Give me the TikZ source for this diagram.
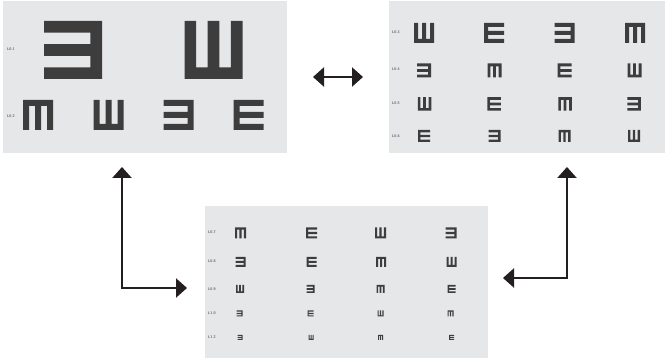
\documentclass[tikz,border=0pt]{standalone}
\usepackage{tikz}
\usetikzlibrary{arrows.meta}
\definecolor{chartbg}{HTML}{E6E7E8}
\definecolor{ink}{HTML}{3D3D3D}
\definecolor{arrowink}{HTML}{231F20}
\tikzset{
  panel/.style={fill=chartbg, draw=none, inner sep=0pt, outer sep=0pt},
  optotype/.style={fill=ink},
  lvl/.style={font=\fontsize{3.8}{3.8}\selectfont\sffamily\bfseries, text=black!60, inner sep=0pt},
  dbl/.style={draw=arrowink, line width=2.2pt,
    {Triangle[length=11pt,width=19pt]}-{Triangle[length=11pt,width=19pt]}}
}
% tumbling E: x, y, size, direction of the opening
\newcommand{\tumbleE}[4]{%
  \fill[optotype, shift={(#1,#2)}, rotate=#4, scale=#3]
    (-0.5,-0.5) rectangle (-0.3,0.5)
    (-0.5,-0.5) rectangle (0.5,-0.3)
    (-0.5,-0.1) rectangle (0.5,0.1)
    (-0.5,0.3) rectangle (0.5,0.5);}

\begin{document}
\begin{tikzpicture}[x=1pt, y=-1pt]
  \useasboundingbox (0,0) rectangle (665,358);
  \node[panel, minimum width=284pt, minimum height=152pt] (CA) at (145,77) {};
  \node[panel, minimum width=276pt, minimum height=152pt] (CB) at (527,77) {};
  \node[panel, minimum width=283pt, minimum height=152pt] (CC) at (346.5,282) {};
  % chart A
  \node[lvl] (LA1) at (11,49) {L0.1};
  \node[lvl] (LA2) at (11,116) {L0.2};
  \foreach \x/\r in {73/180, 213.5/90} \tumbleE{\x}{50}{58}{\r};
  \foreach \x/\r in {38/270, 108.5/90, 178.5/180, 248.5/0} \tumbleE{\x}{115}{30}{\r};
  % chart B
  \node[lvl] (LB3) at (396,32) {L0.3};
  \node[lvl] (LB4) at (396,69) {L0.4};
  \node[lvl] (LB5) at (396,103) {L0.5};
  \node[lvl] (LB6) at (396,136) {L0.6};
  \foreach \x/\r in {424/90, 494/0, 564.5/180, 635/270} \tumbleE{\x}{33}{20}{\r};
  \foreach \x/\r in {424/180, 494.5/270, 564.5/0, 634.5/90} \tumbleE{\x}{70.5}{14}{\r};
  \foreach \x/\r in {424.5/90, 494/0, 565/270, 634/180} \tumbleE{\x}{104}{13.5}{\r};
  \foreach \x/\r in {424/0, 494.5/180, 564.5/270, 634/90} \tumbleE{\x}{136}{12}{\r};
  % chart C
  \node[lvl] (LC7) at (212,232) {L0.7};
  \node[lvl] (LC8) at (212,261) {L0.8};
  \node[lvl] (LC9) at (212,289) {L0.9};
  \node[lvl] (LC10) at (212,313) {L1.0};
  \node[lvl] (LC12) at (212,337) {L1.2};
  \foreach \x/\r in {240.5/270, 311.5/0, 380.5/90, 451/180} \tumbleE{\x}{233}{11}{\r};
  \foreach \x/\r in {240.5/180, 311.5/0, 381/270, 451.5/90} \tumbleE{\x}{262}{10}{\r};
  \foreach \x/\r in {240/90, 310.5/180, 380.5/270, 451.5/0} \tumbleE{\x}{289}{8}{\r};
  \foreach \x/\r in {239.5/180, 310.5/0, 380.5/90, 450.5/270} \tumbleE{\x}{313.5}{6}{\r};
  \foreach \x/\r in {240/180, 311/90, 380.5/270, 451.5/0} \tumbleE{\x}{337.5}{5}{\r};
  % links
  \coordinate (EL) at (122,288);
  \coordinate (ER) at (567,278);
  \draw[dbl, shorten <=26pt, shorten >=26pt] (CA) -- (CB);
  \draw[dbl, shorten <=14pt, shorten >=18pt] (CA.south -| EL) |- (CC.west |- EL);
  \draw[dbl, shorten <=14pt, shorten >=15pt] (CB.south -| ER) |- (CC.east |- ER);
\end{tikzpicture}
\end{document}
